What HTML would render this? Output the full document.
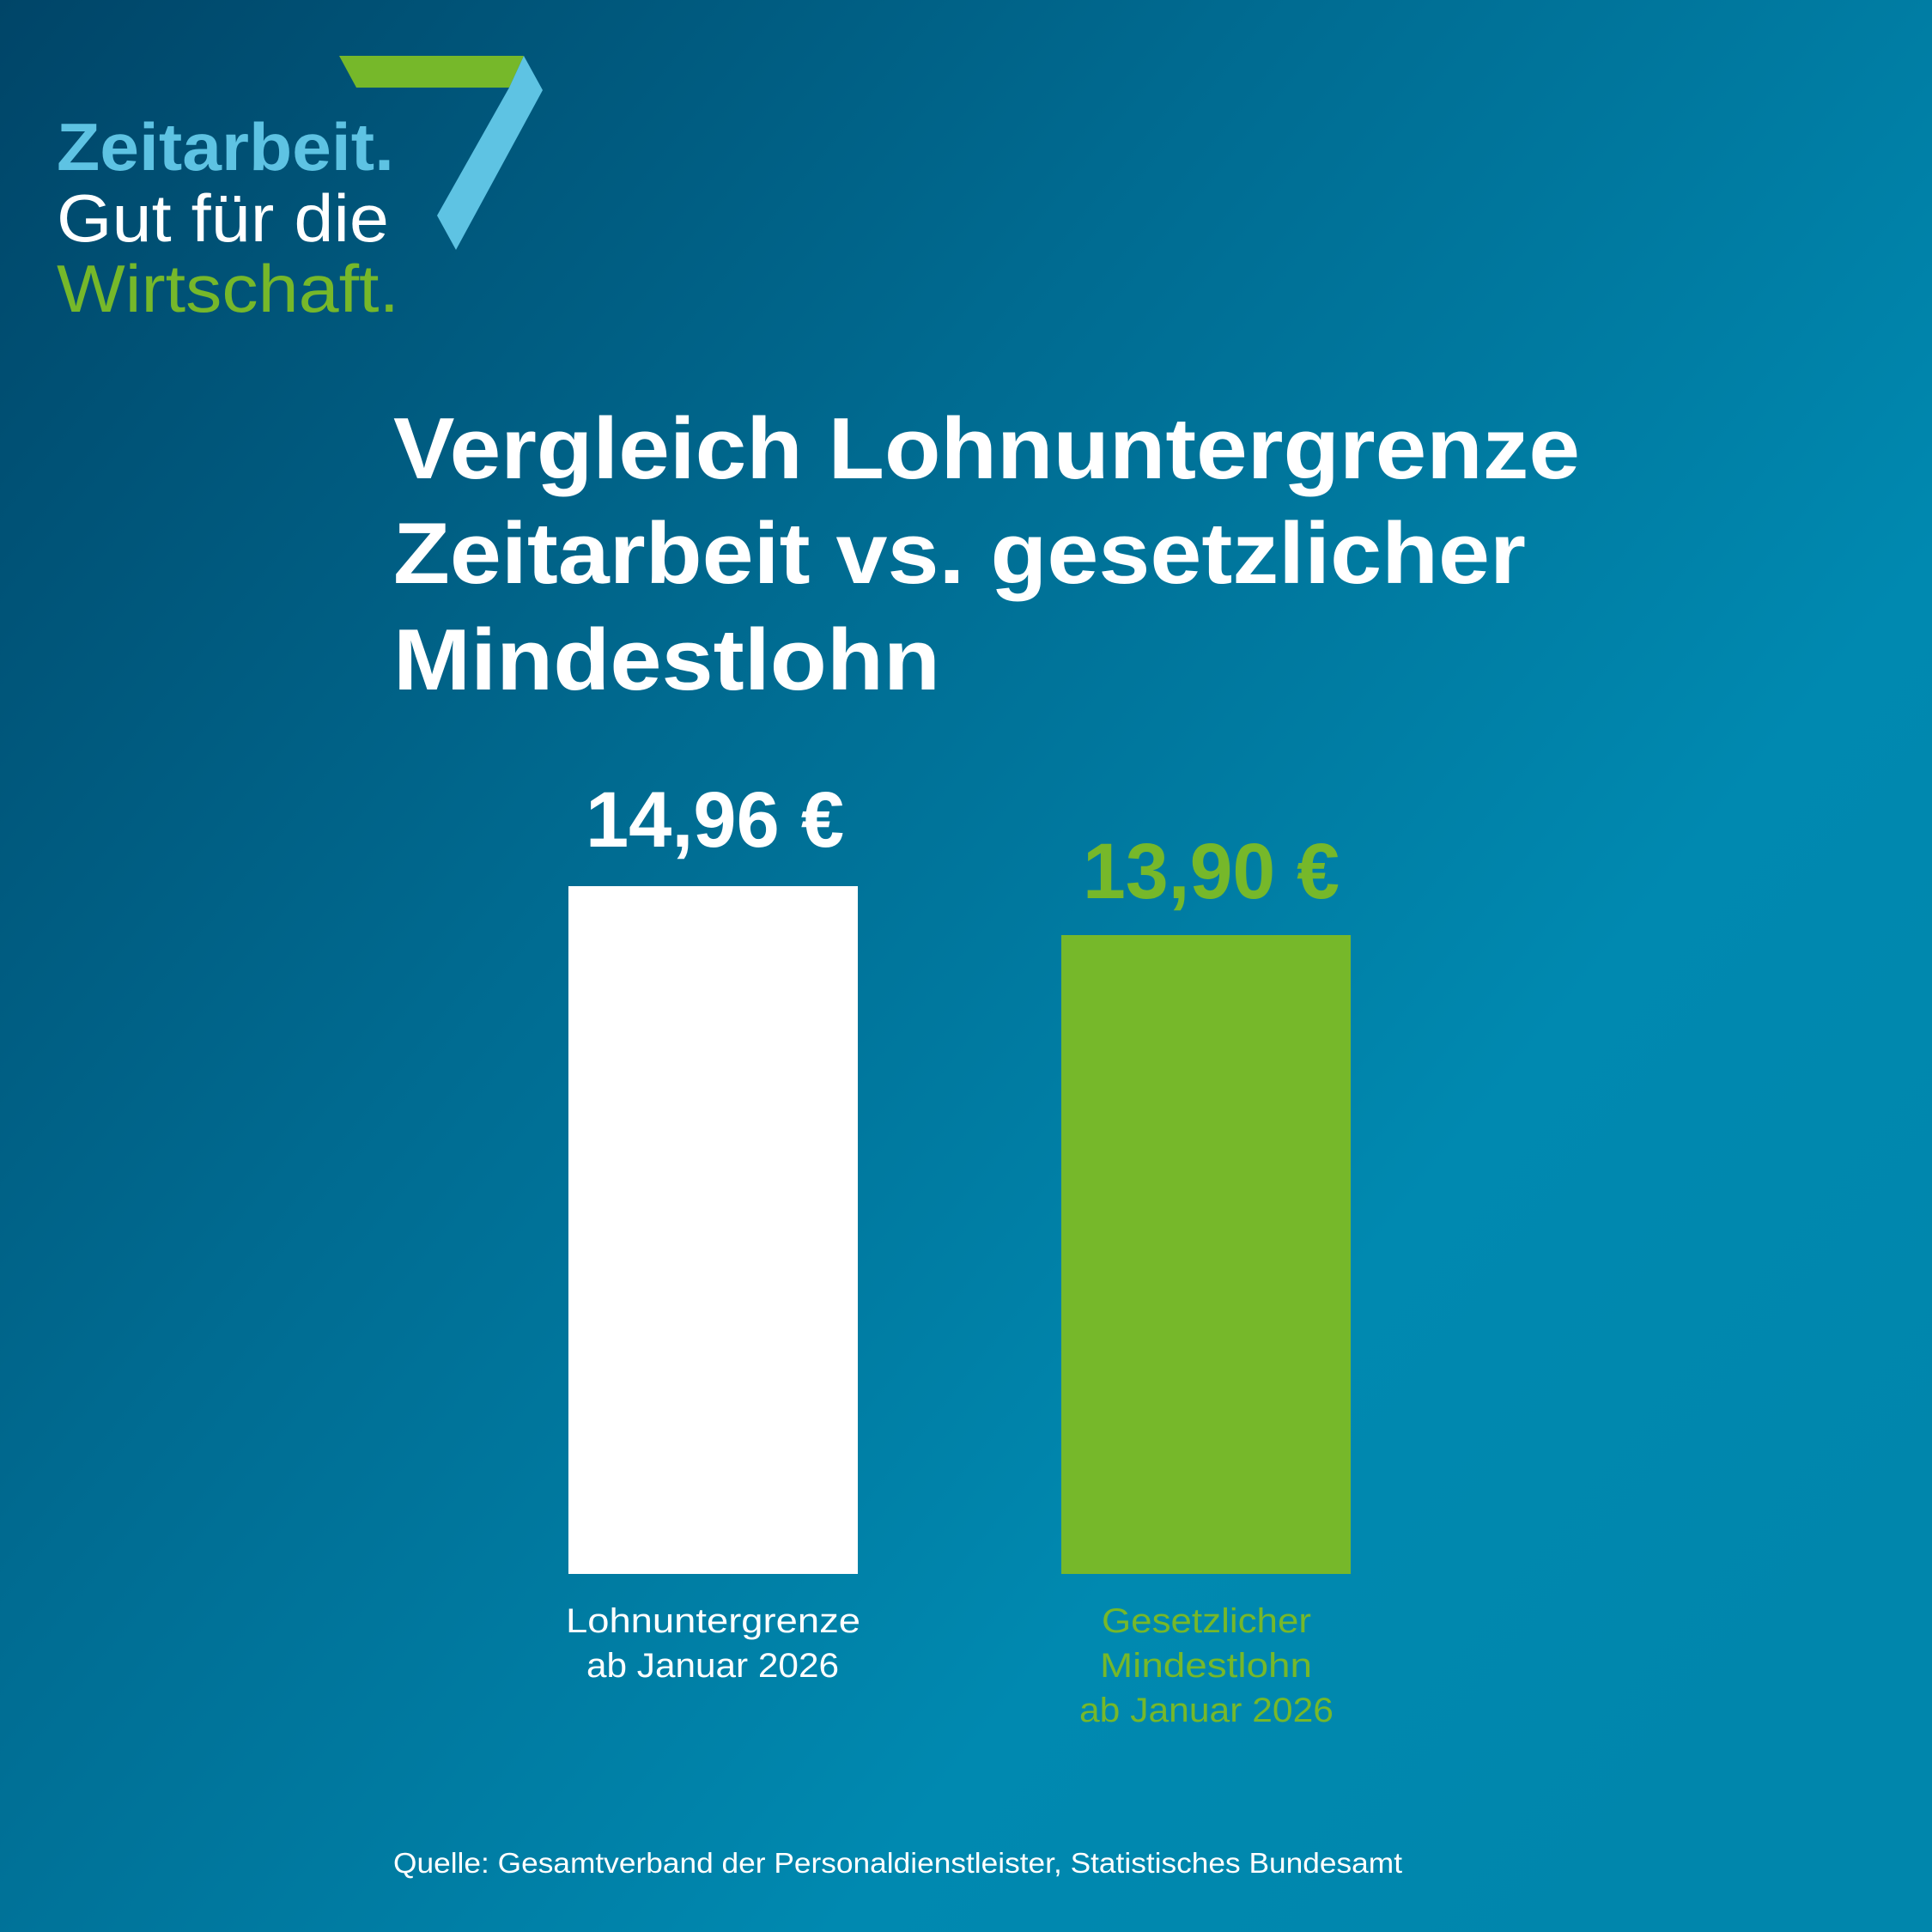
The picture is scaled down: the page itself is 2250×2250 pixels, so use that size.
<!DOCTYPE html>
<html><head><meta charset="utf-8"><style>
html,body{margin:0;padding:0;width:2250px;height:2250px;overflow:hidden}
</style></head><body>
<svg width="2250" height="2250" viewBox="0 0 2250 2250" xmlns="http://www.w3.org/2000/svg" font-family="Liberation Sans, DejaVu Sans, sans-serif">
<defs>
<linearGradient id="bg" x1="0" y1="0" x2="1" y2="0.8">
<stop offset="0" stop-color="#004568"/>
<stop offset="0.4" stop-color="#006b91"/>
<stop offset="0.75" stop-color="#0089b0"/>
<stop offset="1" stop-color="#0086ac"/>
</linearGradient>
</defs>
<rect width="2250" height="2250" fill="url(#bg)"/>
<polygon points="395,65 610,65 593,102 415,102" fill="#76b82a"/>
<polygon points="610,65 632,105 531,291 509,251 593,102" fill="#5ec3e3"/>
<text x="66" y="198" font-size="78" font-weight="bold" fill="#5ec3e3" textLength="393" lengthAdjust="spacingAndGlyphs">Zeitarbeit.</text>
<text x="66" y="281" font-size="78" fill="#ffffff" textLength="387" lengthAdjust="spacingAndGlyphs">Gut für die</text>
<text x="66" y="363" font-size="78" fill="#76b82a" textLength="399" lengthAdjust="spacingAndGlyphs">Wirtschaft.</text>
<g font-size="101" font-weight="bold" fill="#ffffff">
<text x="458" y="557" textLength="1382" lengthAdjust="spacingAndGlyphs">Vergleich Lohnuntergrenze</text>
<text x="458" y="679" textLength="1319" lengthAdjust="spacingAndGlyphs">Zeitarbeit vs. gesetzlicher</text>
<text x="458" y="803" textLength="637" lengthAdjust="spacingAndGlyphs">Mindestlohn</text>
</g>
<text x="682" y="986" font-size="92" font-weight="bold" fill="#ffffff" textLength="301" lengthAdjust="spacingAndGlyphs">14,96 €</text>
<text x="1261" y="1046" font-size="92" font-weight="bold" fill="#76b82a" textLength="299" lengthAdjust="spacingAndGlyphs">13,90 €</text>
<rect x="662" y="1032" width="337" height="801" fill="#ffffff"/>
<rect x="1236" y="1089" width="337" height="744" fill="#76b82a"/>
<g font-size="40" fill="#ffffff">
<text x="659" y="1901" textLength="343" lengthAdjust="spacingAndGlyphs">Lohnuntergrenze</text>
<text x="683" y="1953" textLength="294" lengthAdjust="spacingAndGlyphs">ab Januar 2026</text>
</g>
<g font-size="40" fill="#76b82a">
<text x="1283" y="1901" textLength="244" lengthAdjust="spacingAndGlyphs">Gesetzlicher</text>
<text x="1281" y="1953" textLength="247" lengthAdjust="spacingAndGlyphs">Mindestlohn</text>
<text x="1257" y="2005" textLength="296" lengthAdjust="spacingAndGlyphs">ab Januar 2026</text>
</g>
<text x="458" y="2181" font-size="33" fill="#ffffff" textLength="1175" lengthAdjust="spacingAndGlyphs">Quelle: Gesamtverband der Personaldienstleister, Statistisches Bundesamt</text>
</svg>
</body></html>
